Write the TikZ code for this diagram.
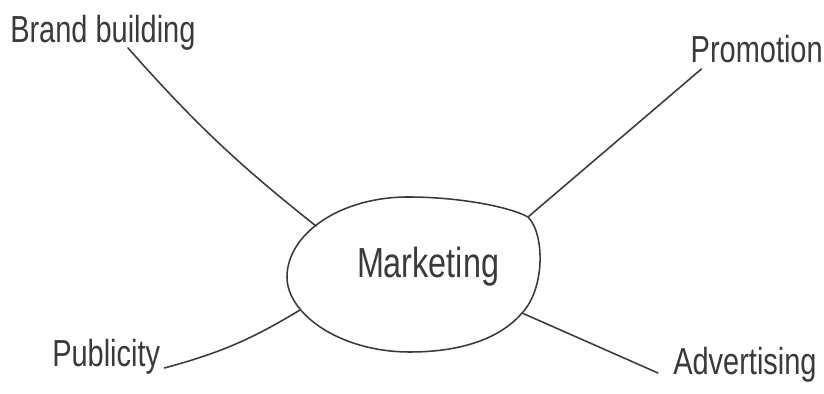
\documentclass[tikz,border=0pt]{standalone}
\usepackage{fontspec}
\setmainfont{Liberation Sans}
\usepackage{graphicx}
\usepackage{tikz}
\definecolor{ink}{HTML}{3A3A3A}
\newcommand{\handfont}{\fontsize{20.6}{24}\selectfont}
\newcommand{\tall}[1]{\scalebox{1}[1.3]{#1}}

\begin{document}
\begin{tikzpicture}[x=0.025cm,y=0.025cm,
  word/.style={inner sep=0pt,text=ink,font=\handfont},
  pen/.style={line width=1.1pt,draw=ink,line cap=round,line join=round}]
\path[use as bounding box,fill=white] (0,0) rectangle (824,394);

\node[word,anchor=base,font=\fontsize{23}{27}\selectfont] (mkt) at (428,116) {\tall{Marketing}};
\coordinate (mktnw) at (316,168);
\coordinate (mktne) at (528,177);
\coordinate (mktsw) at (300,84);
\coordinate (mktse) at (522,81);
\draw[pen] (287,117) .. controls (287,160) and (340,197) .. (408,197)
  .. controls (460,197) and (510,187) .. (mktne)
  .. controls (545,160) and (545,105) .. (mktse)
  .. controls (500,55) and (460,42) .. (410,42)
  .. controls (340,42) and (287,80) .. cycle;

\node[word,anchor=base west] (brand) at (10,351) {\tall{Brand building}};
\node[word,anchor=base east] (prom) at (823,331) {\tall{Promotion}};
\node[word,anchor=base west] (pub) at (52,27) {\tall{Publicity}};
\node[word,anchor=base west] (adv) at (673,19) {\tall{Advertising}};

\draw[pen] ([shift={(118,-5)}]brand.base west) to[bend right=5] (mktnw);
\draw[pen] ([shift={(11,-6)}]prom.base west) -- (mktne);
\draw[pen] ([shift={(4,-1)}]pub.base east) to[bend right=8] (mktsw);
\draw[pen] ([shift={(-15,2)}]adv.base west) -- (mktse);
\end{tikzpicture}
\end{document}
